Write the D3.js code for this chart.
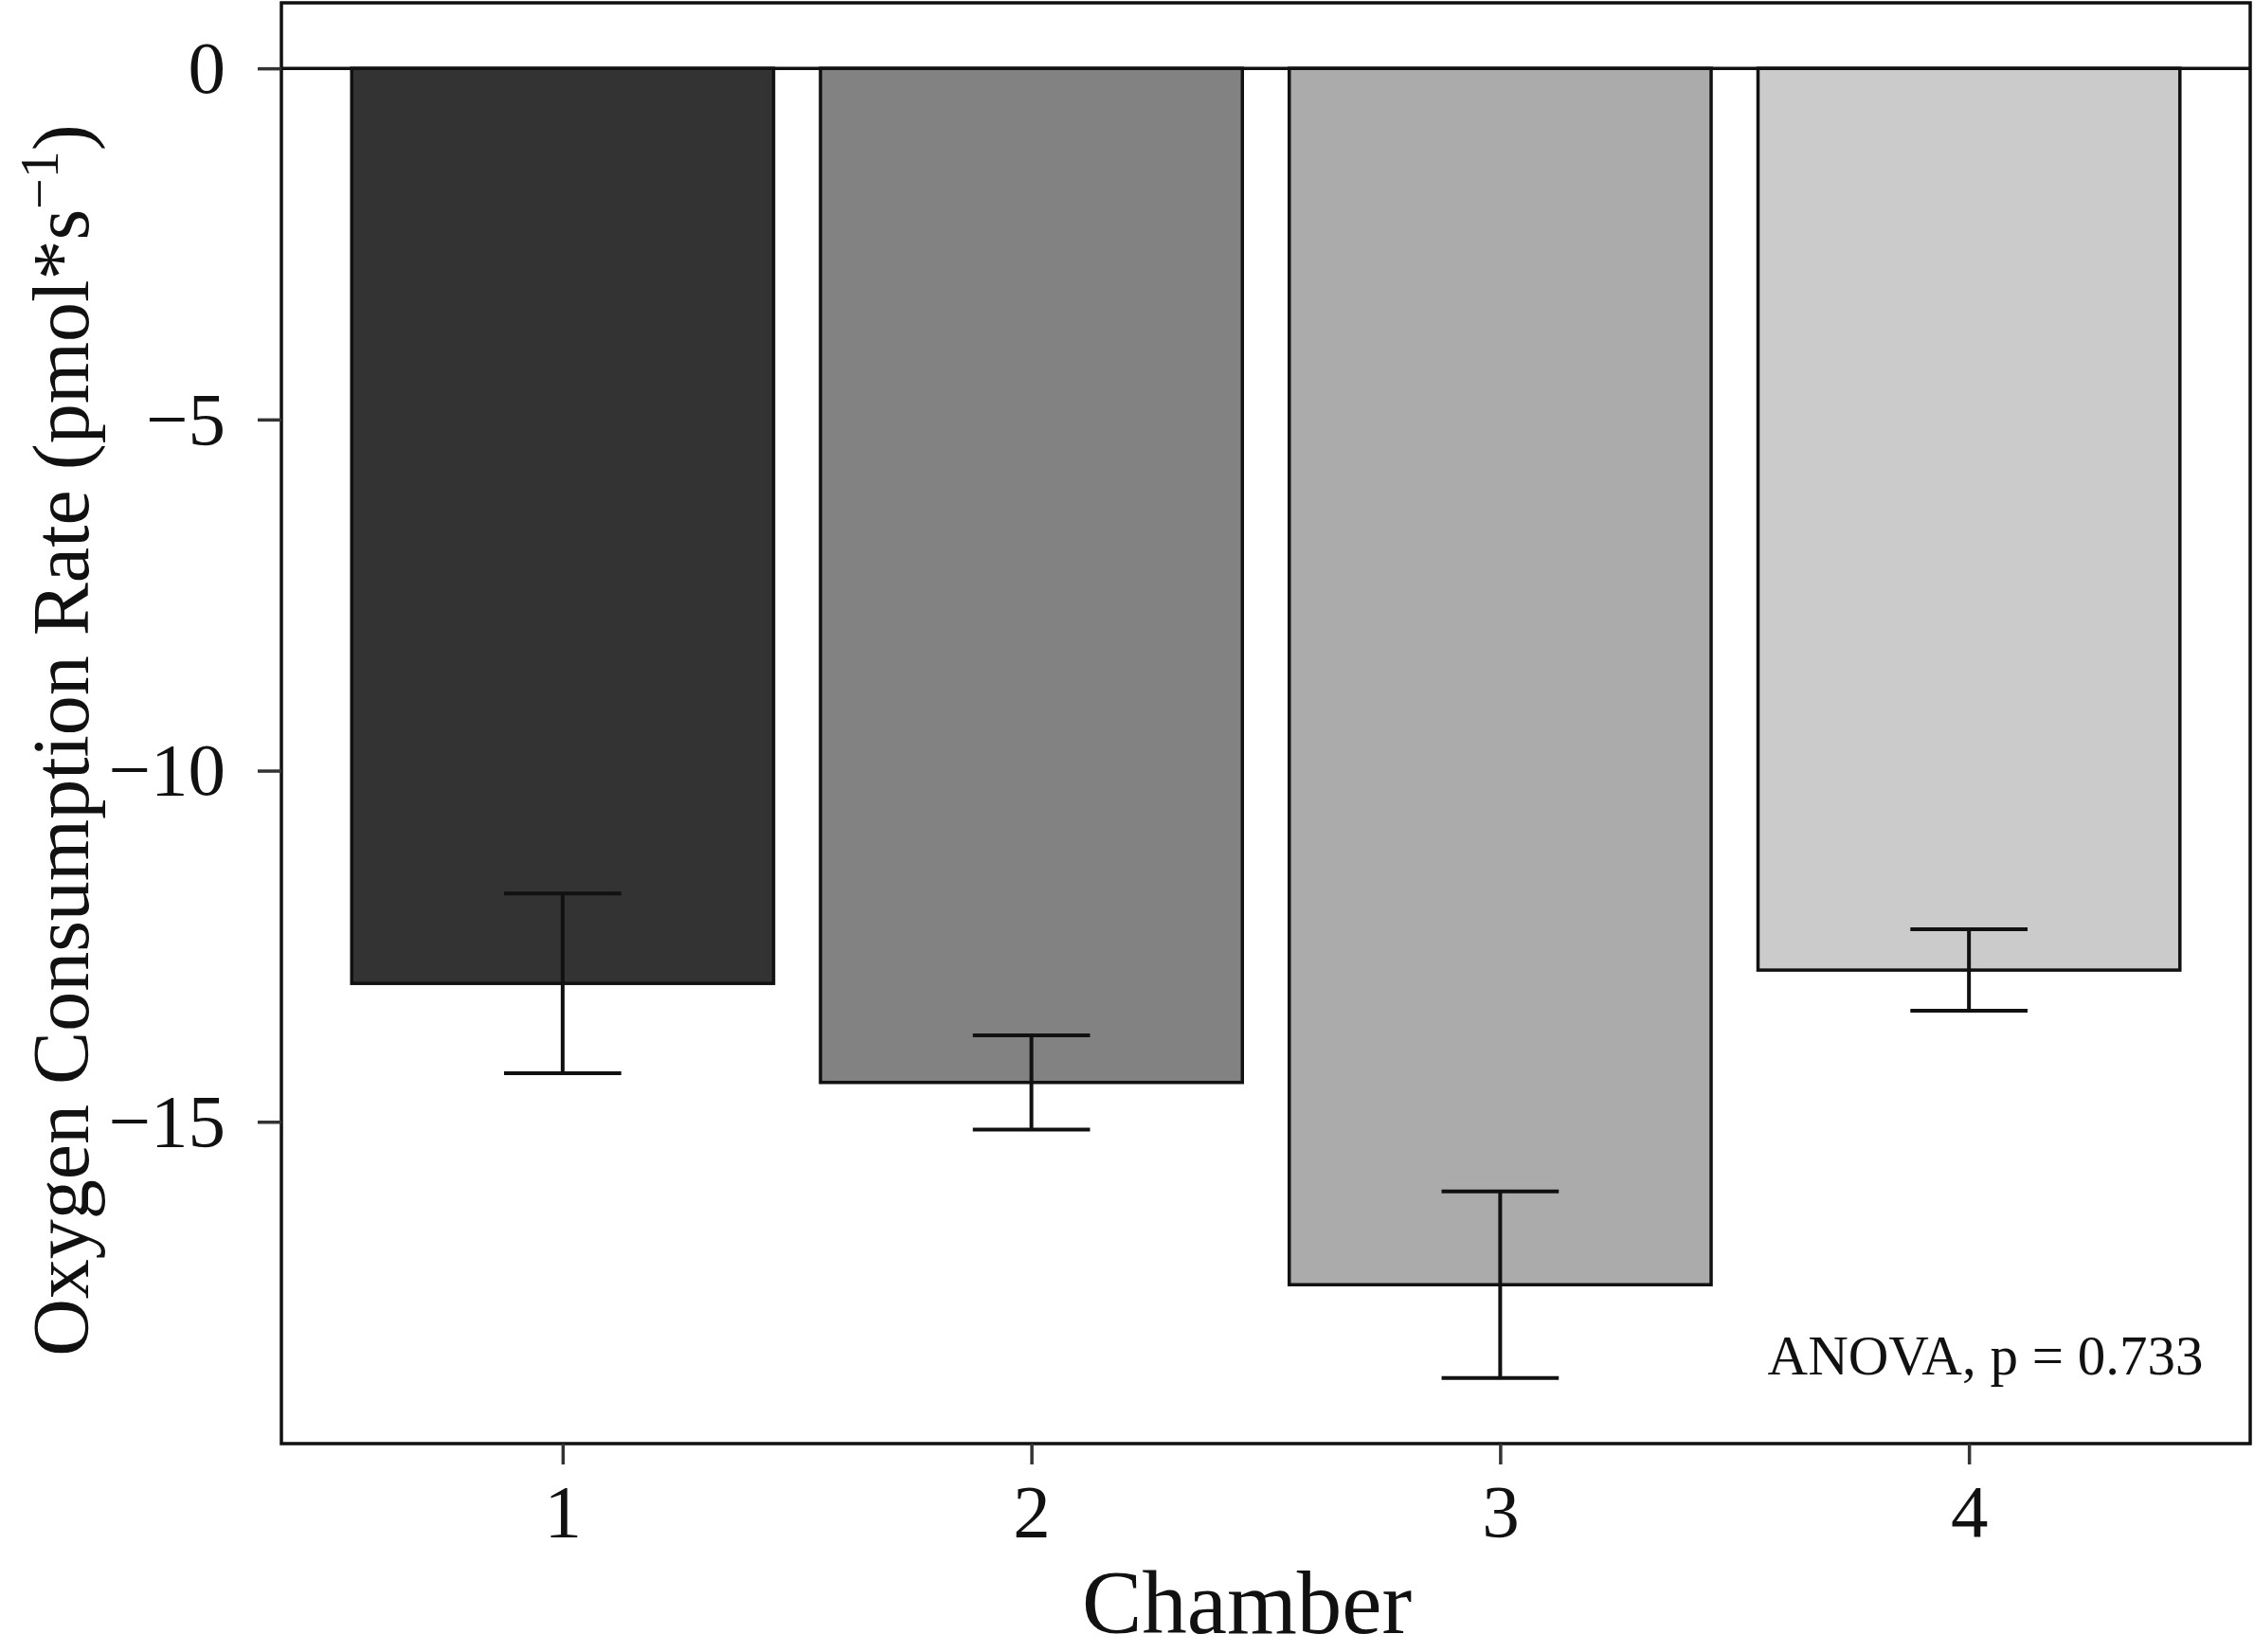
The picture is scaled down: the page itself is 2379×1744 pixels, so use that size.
<!DOCTYPE html>
<html lang="en">
<head>
  <meta charset="UTF-8" />
  <title>Oxygen Consumption Rate by Chamber</title>
  <style>
    html, body {
      margin: 0;
      padding: 0;
      background: #fff;
    }
    svg {
      display: block;
      font-family: "Liberation Serif", "DejaVu Serif", serif;
    }
  </style>
</head>
<body>
  <svg width="2379" height="1744"></svg>
  <script src="https://d3js.org/d3.v7.min.js"></script>
  <script>
    // chart values
    const chambers = ["1", "2", "3", "4"];
    const means = [-13.03, -14.44, -17.32, -12.84];
    const errors = [1.28, 0.67, 1.33, 0.58];
    const fills = ["#333333", "#818281", "#aaabaa", "#cbcbcb"];
    const yTicks = [0, -5, -10, -15];
    const note = "ANOVA, p = 0.733";

    const data = chambers.map((c, i) => ({ c, x: i + 1, mean: means[i], se: errors[i], fill: fills[i] }));

    const svg = d3.select("svg");
    const panel = { left: 297, right: 2375, top: 3, bottom: 1524 };

    // ggplot-like 5% expansion over bars + error bars (and zero)
    const lo = d3.min(data, d => d.mean - d.se);
    const hi = 0;
    const pad = (hi - lo) * 0.05;

    const x = d3.scaleLinear()
      .domain([0.4, chambers.length + 0.6])
      .range([panel.left, panel.right]);

    const y = d3.scaleLinear()
      .domain([lo - pad, hi + pad])
      .range([panel.bottom, panel.top]);

    const barW = 0.9, capW = 0.25;

    // bars
    svg.append("g")
      .selectAll("rect")
      .data(data)
      .join("rect")
      .attr("x", d => x(d.x - barW / 2))
      .attr("width", d => x(d.x + barW / 2) - x(d.x - barW / 2))
      .attr("y", y(0))
      .attr("height", d => y(d.mean) - y(0))
      .attr("fill", d => d.fill)
      .attr("stroke", "#111")
      .attr("stroke-width", 3.5);

    // zero line
    svg.append("line")
      .attr("x1", panel.left).attr("x2", panel.right)
      .attr("y1", y(0)).attr("y2", y(0))
      .attr("stroke", "#111")
      .attr("stroke-width", 3.5);

    // error bars
    const eb = svg.append("g")
      .attr("stroke", "#111")
      .attr("stroke-width", 4)
      .attr("fill", "none");

    eb.selectAll("path")
      .data(data)
      .join("path")
      .attr("d", d => {
        const a = x(d.x - capW / 2), b = x(d.x + capW / 2), m = x(d.x);
        const t = y(d.mean + d.se), u = y(d.mean - d.se);
        return `M${a},${t}H${b}M${m},${t}V${u}M${a},${u}H${b}`;
      });

    // panel border
    svg.append("rect")
      .attr("x", panel.left)
      .attr("y", panel.top)
      .attr("width", panel.right - panel.left)
      .attr("height", panel.bottom - panel.top)
      .attr("fill", "none")
      .attr("stroke", "#111")
      .attr("stroke-width", 3.5);

    // axes
    const yAxis = svg.append("g")
      .attr("transform", `translate(${panel.left},0)`)
      .call(d3.axisLeft(y).tickValues(yTicks).tickSize(25).tickPadding(34)
        .tickFormat(d => d3.format("d")(d).replace("-", "\u2212")));

    const xAxis = svg.append("g")
      .attr("transform", `translate(0,${panel.bottom})`)
      .call(d3.axisBottom(x).tickValues(data.map(d => d.x)).tickSize(22).tickPadding(20)
        .tickFormat((d, i) => chambers[i]));

    [yAxis, xAxis].forEach(g => {
      g.select(".domain").remove();
      g.selectAll(".tick line").attr("stroke", "#333").attr("stroke-width", 3.5);
      g.selectAll(".tick text")
        .attr("fill", "#111")
        .attr("font-family", "'Liberation Serif', serif")
        .attr("font-size", 79);
    });

    // axis titles
    svg.append("text")
      .attr("x", 1316)
      .attr("y", 1724)
      .attr("text-anchor", "middle")
      .attr("font-size", 95)
      .attr("fill", "#111")
      .text("Chamber");

    const yt = svg.append("text")
      .attr("transform", `translate(93,${(panel.top + panel.bottom) / 2 + 18}) rotate(-90)`)
      .attr("text-anchor", "middle")
      .attr("font-size", 84)
      .attr("fill", "#111");
    yt.append("tspan").text("Oxygen Consumption Rate (pmol*s");
    yt.append("tspan").attr("font-size", 58).attr("dy", -32).text("\u22121");
    yt.append("tspan").attr("dy", 32).text(")");

    // annotation
    svg.append("text")
      .attr("x", x(4.5))
      .attr("y", 1451)
      .attr("text-anchor", "end")
      .attr("font-size", 59)
      .attr("fill", "#111")
      .text(note);
  </script>
</body>
</html>
